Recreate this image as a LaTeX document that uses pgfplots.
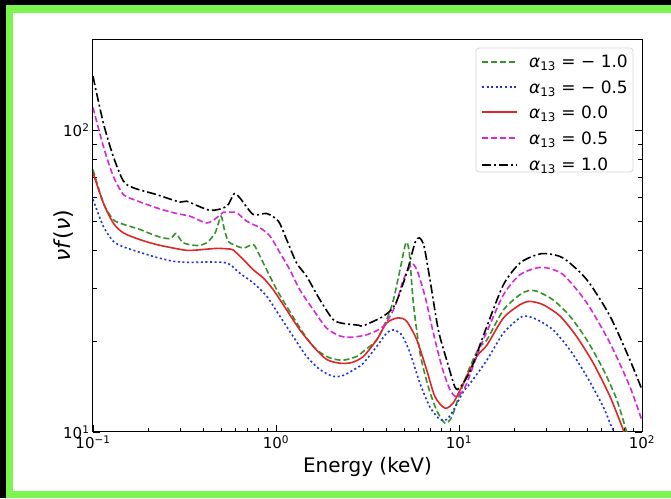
\documentclass[border=0pt]{standalone}
\usepackage{pgfplots}
\pgfplotsset{compat=1.18}
\usepackage{fontspec}
\setmainfont{DejaVu Sans}
\definecolor{framegreen}{RGB}{125,245,80}
\definecolor{cgreen}{RGB}{55,145,45}
\definecolor{cblue}{RGB}{30,50,215}
\definecolor{cred}{RGB}{220,40,40}
\definecolor{cmag}{RGB}{215,40,215}
\definecolor{lgray}{RGB}{215,215,215}
\begin{document}
\begin{tikzpicture}
\fill[black] (0pt,0pt) rectangle (671pt,498pt);
\fill[framegreen] (6pt,0pt) rectangle (671pt,493pt);
\fill[white] (13pt,7pt) rectangle (671pt,485pt);
\begin{axis}[
  at={(93pt,66pt)}, anchor=south west,
  scale only axis, width=549pt, height=392.5pt,
  xmode=log, ymode=log,
  xmin=0.1, xmax=100, ymin=10, ymax=200,
  xtick={0.1,1,10,100},
  xticklabels={10\textsuperscript{−1},10\textsuperscript{0},10\textsuperscript{1},10\textsuperscript{2}},
  minor xtick={0.2,0.3,0.4,0.5,0.6,0.7,0.8,0.9,2,3,4,5,6,7,8,9,20,30,40,50,60,70,80,90},
  ytick={10,100},
  yticklabels={10\textsuperscript{1},10\textsuperscript{2}},
  minor ytick={20,30,40,50,60,70,80,90,200},
  axis line style={line width=1pt},
  tick align=inside,
  xtick pos=bottom, ytick pos=both,
  major tick length=7pt, minor tick length=4pt,
  every tick/.style={black, line width=0.8pt},
  tick label style={font=\fontsize{15}{17}\selectfont},
  xlabel={Energy (keV)},
  ylabel={\textit{νf}(\textit{ν})},
  xlabel style={font=\fontsize{20}{22}\selectfont, yshift=-2pt},
  ylabel style={font=\fontsize{22}{24}\selectfont, yshift=-17pt},
  every axis plot/.append style={line width=1.6pt, smooth, tension=0.45},
]
\addplot[cgreen, dash pattern=on 6pt off 3pt] coordinates {
(0.1,74.1) (0.1138,57.5) (0.129,50.6) (0.1466,48.8) (0.1807,46.9) (0.223,44.6)
(0.2637,43.7) (0.284,45.5) (0.311,42.4) (0.369,41.5) (0.418,42.4) (0.465,45.7)
(0.5005,51.9) (0.522,46.9) (0.548,42.9) (0.585,41.8) (0.663,40.7) (0.751,41.8)
(0.80,39.3) (0.889,34.5) (1.01,29.6) (1.143,26.1) (1.297,23.0) (1.47,20.5)
(1.67,18.7) (1.97,17.6) (2.33,17.3) (2.76,17.8) (3.0,18.5) (3.55,20.2)
(4.03,23.6) (4.38,27.4) (4.76,34.5) (5.13,42.4) (5.35,39.3) (5.63,26.8)
(6.12,18.3) (6.80,14.1) (7.55,11.8) (8.38,10.7) (9.12,11.2) (10.1,13.4)
(11.5,16.5) (13,19.2) (14.2,20.2) (17.5,25.4) (21.5,28.5) (23.9,29.4)
(26.6,29.3) (32.7,27.4) (40.4,24.2) (49.9,20.2) (61.5,16.1) (72.8,12.8)
(82.5,10.0) (90,8.6)};
\addplot[cblue, dash pattern=on 2pt off 2.6pt] coordinates {
(0.1,59.0) (0.1138,48.1) (0.129,42.9) (0.1466,41.1) (0.1807,39.4) (0.223,37.9)
(0.275,36.8) (0.339,36.5) (0.418,36.6) (0.515,36.5) (0.561,35.9) (0.635,33.6)
(0.751,31.2) (0.889,28.2) (1.05,24.2) (1.243,20.7) (1.47,17.8) (1.74,16.1)
(2.05,15.3) (2.33,15.4) (2.76,16.3) (3.0,16.9) (3.55,19.2) (4.03,21.3)
(4.38,21.8) (4.86,21.0) (5.40,18.3) (6.12,14.5) (6.94,12.1) (7.87,11.0)
(8.57,11.0) (9.31,11.8) (10.56,13.6) (11.5,14.5) (14.2,17.3) (17.5,21.3)
(21.5,23.9) (23.4,24.2) (26.6,23.6) (32.7,21.8) (40.4,18.7) (49.9,15.3)
(61.5,12.1) (68.2,10.4) (75,9.2)};
\addplot[cred] coordinates {
(0.1,72.4) (0.1138,57.5) (0.129,49.3) (0.1466,45.7) (0.1807,43.4) (0.223,41.8)
(0.275,40.7) (0.325,40.0) (0.369,40.1) (0.474,40.6) (0.561,40.4) (0.585,40.1)
(0.663,37.3) (0.751,34.5) (0.852,32.4) (0.967,29.6) (1.143,25.4) (1.35,21.8)
(1.60,19.2) (1.89,17.4) (2.24,16.9) (2.6,17.0) (3.0,17.8) (3.55,20.2)
(4.03,23.0) (4.65,23.9) (5.17,23.3) (5.88,20.2) (6.65,16.1) (7.39,13.1)
(8.38,12.0) (9.31,12.5) (10.56,14.5) (12.5,17.8) (14.2,19.4) (17.5,23.9)
(21.5,26.4) (24.4,27.1) (28.9,26.4) (35.7,24.2) (44.0,20.7) (54.2,16.9)
(66.9,13.1) (79.1,10.15) (85,9.0)};
\addplot[cmag, dash pattern=on 6pt off 3pt] coordinates {
(0.1,119) (0.1138,88.7) (0.129,70.5) (0.1466,61.2) (0.166,59.0) (0.223,55.3)
(0.286,53.0) (0.339,51.9) (0.418,49.3) (0.474,51.3) (0.515,53.5) (0.538,53.5)
(0.609,53.3) (0.691,50.0) (0.818,47.5) (0.927,44.6) (1.05,39.3) (1.19,34.5)
(1.35,29.6) (1.60,25.4) (1.89,22.1) (2.24,20.8) (2.54,20.6) (3.13,21.0)
(3.86,22.4) (4.47,26.1) (4.97,32.0) (5.51,35.9) (5.88,34.5) (6.52,28.2)
(7.24,21.3) (8.05,16.5) (8.93,13.8) (9.71,13.1) (10.8,14.1) (13,19.0)
(14.2,21.5) (17.5,28.5) (21.5,33.2) (26.6,35.0) (30.2,35.0) (37.2,33.2)
(49.9,26.8) (66.9,19.7) (86,14.1) (99.5,11.0)};
\addplot[black, dash pattern=on 9pt off 3pt on 2pt off 3pt] coordinates {
(0.1,151) (0.1138,106) (0.129,82) (0.1466,67.9) (0.166,64.5) (0.223,61.2)
(0.299,57.8) (0.325,58.2) (0.436,54.3) (0.538,56) (0.590,61.6) (0.635,59.7)
(0.751,52.6) (0.889,53) (1.03,50) (1.143,43.4) (1.297,36.3) (1.47,32.8)
(1.74,27.4) (2.05,23.6) (2.33,22.9) (2.82,22.6) (3.0,22.5) (3.86,24.2)
(4.47,26.4) (5.17,33.6) (5.75,42.4) (6.07,44.0) (6.44,41.3) (6.94,32.0)
(7.71,21.8) (8.57,17.3) (9.5,14.1) (10.1,14.0) (11.5,15.9) (13.0,19.4)
(14.2,22.4) (17.5,30.8) (21.5,36.3) (26.6,38.7) (30.2,39.0) (37.2,37.7)
(49.9,32.0) (66.9,24.2) (86,17.3) (100,13.8)};
% legend
\draw[lgray, fill=white, line width=0.8pt, rounded corners=3pt]
  (axis description cs:0.6976,0.6624) rectangle (axis description cs:0.9836,0.9783);
\draw[cgreen, line width=2pt, dash pattern=on 6pt off 3pt]
  (axis description cs:0.7086,0.9427) -- (axis description cs:0.7723,0.9427);
\draw[cblue, line width=2pt, dash pattern=on 2pt off 2.6pt]
  (axis description cs:0.7086,0.8777) -- (axis description cs:0.7723,0.8777);
\draw[cred, line width=2pt]
  (axis description cs:0.7086,0.8140) -- (axis description cs:0.7723,0.8140);
\draw[cmag, line width=2pt, dash pattern=on 6pt off 3pt]
  (axis description cs:0.7086,0.7478) -- (axis description cs:0.7723,0.7478);
\draw[black, line width=2pt, dash pattern=on 9pt off 3pt on 2pt off 3pt]
  (axis description cs:0.7086,0.6815) -- (axis description cs:0.7723,0.6815);
\begin{scope}[every node/.style={anchor=base west, inner sep=0pt, font=\fontsize{17}{19}\selectfont}]
\node at (axis description cs:0.7942,0.9274) {\textit{α}\textsubscript{13} = − 1.0};
\node at (axis description cs:0.7942,0.8624) {\textit{α}\textsubscript{13} = − 0.5};
\node at (axis description cs:0.7942,0.7987) {\textit{α}\textsubscript{13} = 0.0};
\node at (axis description cs:0.7942,0.7325) {\textit{α}\textsubscript{13} = 0.5};
\node at (axis description cs:0.7942,0.6662) {\textit{α}\textsubscript{13} = 1.0};
\end{scope}
\end{axis}
\end{tikzpicture}
\end{document}
